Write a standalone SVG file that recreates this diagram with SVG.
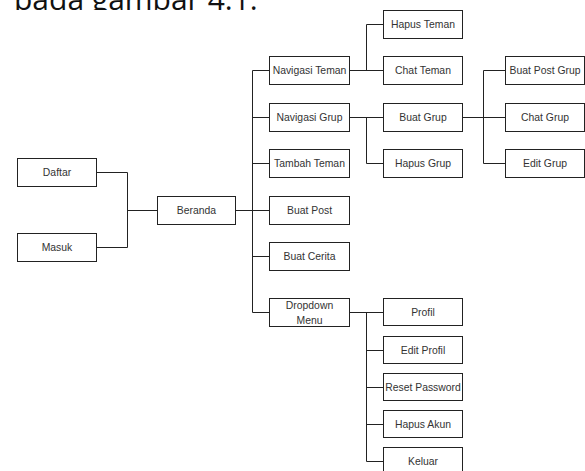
<svg xmlns="http://www.w3.org/2000/svg" width="585" height="471" viewBox="0 0 585 471">
<style>
.box rect{fill:#fff;stroke:#222;stroke-width:1}
.box text{font-family:"Liberation Sans",Arial,sans-serif;font-size:10.4px;fill:#333;text-anchor:middle;dominant-baseline:central}
#connectors path{fill:none;stroke:#222;stroke-width:1}
.cap{font-family:"Open Sans",sans-serif;font-size:30px;fill:#111}
</style>
<rect width="585" height="471" fill="#fff"/>
<text class="cap" x="14" y="10">pada gambar 4.1.</text>
<rect x="0" y="10" width="585" height="461" fill="#fff"/>
<g id="connectors">
<path d="M96,172.5 H127.5 V247.5 H96 M127.5,210.5 H157"/>
<path d="M235,210.5 H252.5 M252.5,70.5 V312.5 M252.5,70.5 H269 M252.5,117.5 H269 M252.5,163.5 H269 M252.5,210.5 H269 M252.5,256.5 H269 M252.5,312.5 H269"/>
<path d="M349,70.5 H383 M366.5,70.5 V24.5 H383"/>
<path d="M349,117.5 H383 M366.5,117.5 V163.5 H383"/>
<path d="M462,117.5 H505 M483.5,70.5 V163.5 M483.5,70.5 H505 M483.5,163.5 H505"/>
<path d="M349,312.5 H383 M366.5,312.5 V461.5 M366.5,350.5 H383 M366.5,387.5 H383 M366.5,424.5 H383 M366.5,461.5 H383"/>
</g>
<g id="daftar" class="box"><rect x="17.5" y="158.5" width="79" height="28"/><text x="57" y="172.5">Daftar</text></g>
<g id="masuk" class="box"><rect x="17.5" y="233.5" width="79" height="28"/><text x="57" y="247.5">Masuk</text></g>
<g id="beranda" class="box"><rect x="157.5" y="196.5" width="78" height="28"/><text x="196.5" y="210.5">Beranda</text></g>
<g id="navigasi-teman" class="box"><rect x="269.5" y="56.5" width="80" height="28"/><text x="309.5" y="70.5">Navigasi Teman</text></g>
<g id="navigasi-grup" class="box"><rect x="269.5" y="103.5" width="80" height="28"/><text x="309.5" y="117.5">Navigasi Grup</text></g>
<g id="tambah-teman" class="box"><rect x="269.5" y="149.5" width="80" height="28"/><text x="309.5" y="163.5">Tambah Teman</text></g>
<g id="buat-post" class="box"><rect x="269.5" y="196.5" width="80" height="28"/><text x="309.5" y="210.5">Buat Post</text></g>
<g id="buat-cerita" class="box"><rect x="269.5" y="242.5" width="80" height="28"/><text x="309.5" y="256.5">Buat Cerita</text></g>
<g id="dropdown-menu" class="box"><rect x="269.5" y="298.5" width="80" height="28"/><text x="309.5" y="305">Dropdown</text><text x="309.5" y="320">Menu</text></g>
<g id="hapus-teman" class="box"><rect x="383.5" y="10.5" width="79" height="28"/><text x="423" y="24.5">Hapus Teman</text></g>
<g id="chat-teman" class="box"><rect x="383.5" y="56.5" width="79" height="28"/><text x="423" y="70.5">Chat Teman</text></g>
<g id="buat-grup" class="box"><rect x="383.5" y="103.5" width="79" height="28"/><text x="423" y="117.5">Buat Grup</text></g>
<g id="hapus-grup" class="box"><rect x="383.5" y="149.5" width="79" height="28"/><text x="423" y="163.5">Hapus Grup</text></g>
<g id="buat-post-grup" class="box"><rect x="505.5" y="56.5" width="79" height="28"/><text x="545" y="70.5">Buat Post Grup</text></g>
<g id="chat-grup" class="box"><rect x="505.5" y="103.5" width="79" height="28"/><text x="545" y="117.5">Chat Grup</text></g>
<g id="edit-grup" class="box"><rect x="505.5" y="149.5" width="79" height="28"/><text x="545" y="163.5">Edit Grup</text></g>
<g id="profil" class="box"><rect x="383.5" y="298.5" width="79" height="27"/><text x="423" y="312">Profil</text></g>
<g id="edit-profil" class="box"><rect x="383.5" y="336.5" width="79" height="27"/><text x="423" y="350">Edit Profil</text></g>
<g id="reset-password" class="box"><rect x="383.5" y="373.5" width="79" height="27"/><text x="423" y="387">Reset Password</text></g>
<g id="hapus-akun" class="box"><rect x="383.5" y="410.5" width="79" height="27"/><text x="423" y="424">Hapus Akun</text></g>
<g id="keluar" class="box"><rect x="383.5" y="447.5" width="79" height="28"/><text x="423" y="461">Keluar</text></g>
</svg>
